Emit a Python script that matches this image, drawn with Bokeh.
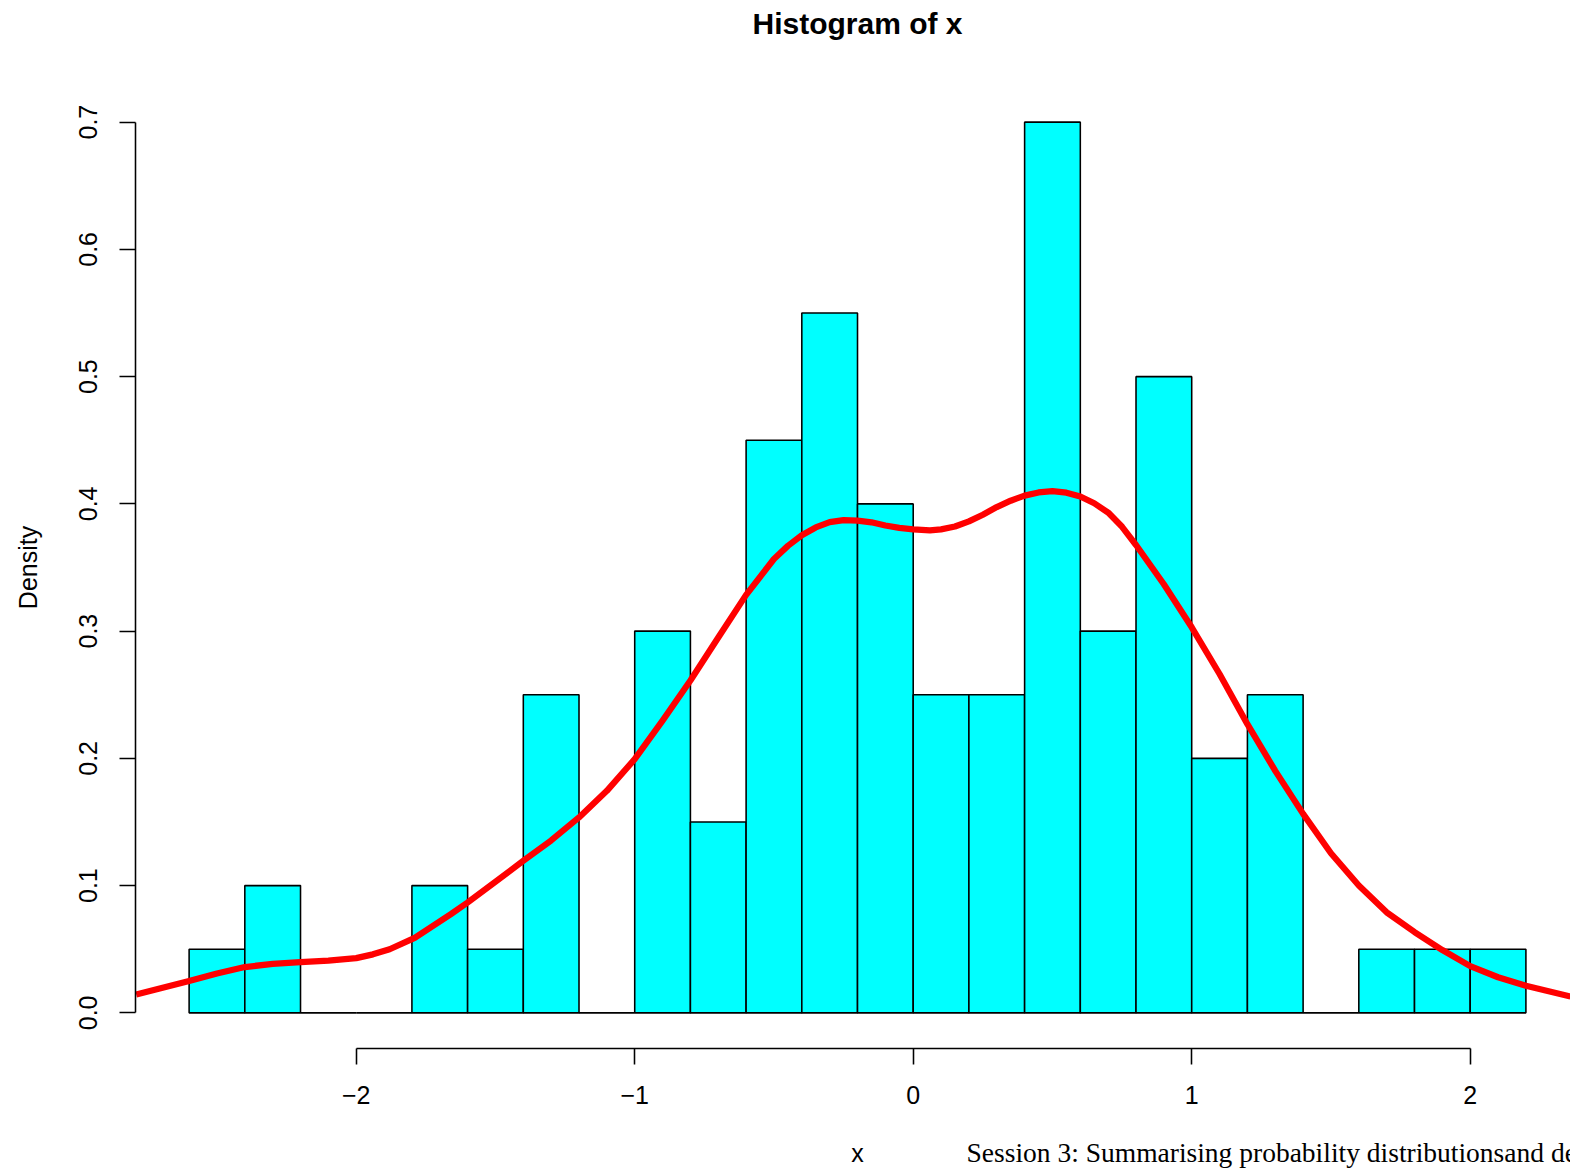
from bokeh.plotting import figure
from bokeh.models import FixedTicker, Range1d
from bokeh.layouts import column
from bokeh.core.properties import value
from bokeh.embed import file_html
from bokeh.resources import INLINE

# ---------------- data ----------------
breaks = [-2.6, -2.4, -2.2, -2.0, -1.8, -1.6, -1.4, -1.2, -1.0, -0.8, -0.6, -0.4,
          -0.2, 0.0, 0.2, 0.4, 0.6, 0.8, 1.0, 1.2, 1.4, 1.6, 1.8, 2.0, 2.2]
density = [0.05, 0.10, 0.0, 0.0, 0.10, 0.05, 0.25, 0.0, 0.30, 0.15, 0.45, 0.55,
           0.40, 0.25, 0.25, 0.70, 0.30, 0.50, 0.20, 0.25, 0.0, 0.05, 0.05, 0.05]

kde_x = [-2.79, -2.6, -2.5, -2.4, -2.3, -2.2, -2.1, -2.0, -1.94, -1.88, -1.79, -1.66,
         -1.6, -1.5, -1.4, -1.3, -1.2, -1.1, -1.0, -0.9, -0.8, -0.7, -0.6, -0.5,
         -0.45, -0.4, -0.35, -0.3, -0.25, -0.2, -0.15, -0.1, -0.05, 0.0, 0.06, 0.1,
         0.15, 0.2, 0.25, 0.3, 0.35, 0.4, 0.45, 0.5, 0.55, 0.6, 0.65, 0.7, 0.75, 0.8,
         0.9, 1.0, 1.1, 1.2, 1.3, 1.4, 1.5, 1.6, 1.7, 1.8, 1.9, 2.0, 2.1, 2.2, 2.36]
kde_y = [0.0144, 0.025, 0.0310, 0.036, 0.0385, 0.0398, 0.0410, 0.043, 0.0460, 0.050,
         0.059, 0.0776, 0.0867, 0.103, 0.1195, 0.1355, 0.1536, 0.1745, 0.1994,
         0.2296, 0.2612, 0.2950, 0.3285, 0.3567, 0.3670, 0.3754, 0.3815, 0.3857,
         0.3873, 0.3868, 0.3855, 0.3830, 0.3812, 0.3800, 0.3792, 0.3800, 0.3822,
         0.3862, 0.3915, 0.3975, 0.4025, 0.4065, 0.4090, 0.4100, 0.4088, 0.4058,
         0.4005, 0.3932, 0.3820, 0.3677, 0.3368, 0.3030, 0.2663, 0.2269, 0.1902,
         0.1564, 0.1254, 0.1001, 0.0790, 0.0635, 0.0494, 0.0367, 0.0280, 0.0213,
         0.0128]

x_tick_values = [-2, -1, 0, 1, 2]
x_tick_labels = ["\u22122", "\u22121", "0", "1", "2"]
y_tick_values = [0.0, 0.1, 0.2, 0.3, 0.4, 0.5, 0.6, 0.7]
y_tick_labels = ["0.0", "0.1", "0.2", "0.3", "0.4", "0.5", "0.6", "0.7"]

title_text = "Histogram of x"
x_label_text = "x"
y_label_text = "Density"
footer_text = "Session 3: Summarising probability distributionsand de"

# ---------------- layout / style ----------------
SANS = "Liberation Sans"
SERIF = "Liberation Serif"
LW = 1.56
W = 1570
LEFT = 135
XS, XE = -2.7925, 2.3601
HEAD_H, MAIN_H, FOOT_H = 86, 1044, 39


def bare(height):
    f = figure(width=W, height=height, x_range=Range1d(XS, XE),
               y_range=Range1d(height, 0),
               x_axis_type=None, y_axis_type=None,
               min_border_left=LEFT, min_border_right=0,
               min_border_top=0, min_border_bottom=0,
               outline_line_color=None, toolbar_location=None,
               output_backend="svg", background_fill_color="white",
               border_fill_color="white")
    return f


# header with the title
head = bare(HEAD_H)
head.text(x=[-0.2], y=[22.5], text=[title_text], text_font=value(SANS),
          text_font_size="30px", text_font_style="bold", text_align="center",
          text_baseline="alphabetic", text_color="black")

# main plot
bin_left = breaks[:-1]
bin_right = breaks[1:]

p = figure(width=W, height=MAIN_H,
           x_range=Range1d(XS, XE), y_range=Range1d(-0.028, 0.728),
           output_backend="svg", toolbar_location=None,
           min_border_left=LEFT, min_border_right=0,
           min_border_top=0, min_border_bottom=82,
           background_fill_color="white", border_fill_color="white",
           outline_line_color=None)
p.grid.visible = False

p.quad(left=bin_left, right=bin_right, bottom=0, top=density,
       fill_color="#00FFFF", line_color="black", line_width=LW)

p.line(kde_x, kde_y, line_color="#FF0000", line_width=6.25, line_join="round")

xa = p.xaxis[0]
xa.bounds = (x_tick_values[0], x_tick_values[-1])
xa.ticker = FixedTicker(ticks=x_tick_values, minor_ticks=[])
xa.major_label_overrides = dict(zip(x_tick_values, x_tick_labels))
xa.major_tick_in = 0
xa.major_tick_out = 16
xa.minor_tick_out = 0
xa.minor_tick_in = 0
xa.axis_line_width = LW
xa.major_tick_line_width = LW
xa.axis_line_color = "black"
xa.major_tick_line_color = "black"
xa.major_label_text_font = SANS
xa.major_label_text_font_size = "25px"
xa.major_label_text_color = "black"
xa.major_label_standoff = 21

ya = p.yaxis[0]
ya.bounds = (y_tick_values[0], y_tick_values[-1])
ya.ticker = FixedTicker(ticks=y_tick_values, minor_ticks=[])
ya.major_label_overrides = dict(zip(y_tick_values, y_tick_labels))
ya.major_tick_in = 0
ya.major_tick_out = 16
ya.minor_tick_out = 0
ya.minor_tick_in = 0
ya.axis_line_width = LW
ya.major_tick_line_width = LW
ya.axis_line_color = "black"
ya.major_tick_line_color = "black"
ya.major_label_text_font = SANS
ya.major_label_text_font_size = "25px"
ya.major_label_text_color = "black"
ya.major_label_orientation = "vertical"
ya.major_label_standoff = 22
ya.axis_label = y_label_text
ya.axis_label_text_font = SANS
ya.axis_label_text_font_size = "25px"
ya.axis_label_text_font_style = "normal"
ya.axis_label_text_color = "black"
ya.axis_label_standoff = 35

# footer with the x label and the session note
foot = bare(FOOT_H)
foot.text(x=[-0.2], y=[22], text=[x_label_text], text_font=value(SANS),
          text_font_size="25px", text_align="center",
          text_baseline="alphabetic", text_color="black")
foot.text(x=[0.1914], y=[22], text=[footer_text], text_font=value(SERIF),
          text_font_size="27.5px", text_align="left",
          text_baseline="alphabetic", text_color="black")

layout = column(head, p, foot, spacing=0)
open("out.html", "w").write(file_html(layout, INLINE))
